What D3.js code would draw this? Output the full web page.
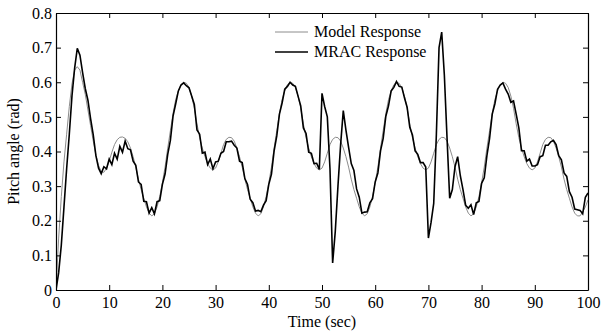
<!DOCTYPE html>
<html>
<head>
<meta charset="utf-8">
<script src="https://cdn.jsdelivr.net/npm/d3@7"></script>
<style>
  html, body { margin: 0; padding: 0; background: #fff; }
  svg { display: block; }
  text { font-family: "Liberation Serif", "Times New Roman", serif; font-size: 16px; fill: #000; }
</style>
</head>
<body>
<svg id="chart" width="601" height="331"></svg>
<script>
// ---- data (sampled every 0.5 s, 0 .. 100 s) ----
const sampleStep = 0.5;
const xTicks = [0, 10, 20, 30, 40, 50, 60, 70, 80, 90, 100];
const yTicks = [0, 0.1, 0.2, 0.3, 0.4, 0.5, 0.6, 0.7, 0.8];
const yTickLabels = ["0", "0.1", "0.2", "0.3", "0.4", "0.5", "0.6", "0.7", "0.8"];
const seriesNames = ["Model Response", "MRAC Response"];

const modelResponse = [
  0.000, 0.150, 0.270, 0.370, 0.450, 0.530, 0.595, 0.635, 0.645, 0.635,
  0.600, 0.565, 0.520, 0.475, 0.430, 0.390, 0.360, 0.342, 0.340, 0.352,
  0.372, 0.398, 0.420, 0.434, 0.441, 0.442, 0.438, 0.428, 0.410, 0.385,
  0.355, 0.320, 0.290, 0.265, 0.240, 0.222, 0.214, 0.220, 0.240, 0.270,
  0.310, 0.355, 0.410, 0.460, 0.510, 0.550, 0.575, 0.593,
  // 24 s
  0.600, 0.597, 0.585, 0.560, 0.525, 0.480, 0.440, 0.410, 0.385, 0.365,
  0.352, 0.347, 0.352, 0.370, 0.395, 0.420, 0.435, 0.441, 0.440, 0.430,
  0.410, 0.385, 0.355, 0.320, 0.290, 0.265, 0.240, 0.222, 0.214, 0.220,
  0.240, 0.270, 0.310, 0.355, 0.410, 0.460, 0.510, 0.550, 0.575, 0.593,
  // 44 s
  0.600, 0.597, 0.585, 0.560, 0.525, 0.480, 0.440, 0.410, 0.385, 0.365,
  0.352, 0.347, 0.352, 0.370, 0.395, 0.420, 0.435, 0.441, 0.440, 0.430,
  0.410, 0.385, 0.355, 0.320, 0.290, 0.265, 0.240, 0.222, 0.214, 0.220,
  0.240, 0.270, 0.310, 0.355, 0.410, 0.460, 0.510, 0.550, 0.575, 0.593,
  // 64 s
  0.600, 0.597, 0.585, 0.560, 0.525, 0.480, 0.440, 0.410, 0.385, 0.365,
  0.352, 0.347, 0.352, 0.370, 0.395, 0.420, 0.435, 0.441, 0.440, 0.430,
  0.410, 0.385, 0.355, 0.320, 0.290, 0.265, 0.240, 0.222, 0.214, 0.220,
  0.240, 0.270, 0.310, 0.355, 0.410, 0.460, 0.510, 0.550, 0.575, 0.593,
  // 84 s
  0.600, 0.597, 0.585, 0.560, 0.525, 0.480, 0.440, 0.410, 0.385, 0.365,
  0.352, 0.347, 0.352, 0.370, 0.395, 0.420, 0.435, 0.441, 0.440, 0.430,
  0.410, 0.385, 0.355, 0.320, 0.290, 0.265, 0.240, 0.222, 0.214, 0.214,
  0.225, 0.240, 0.260
];

const mracResponse = [
  0.000, 0.050, 0.130, 0.240, 0.350, 0.450, 0.560, 0.640, 0.698, 0.678,
  0.628, 0.582, 0.548, 0.495, 0.448, 0.388, 0.352, 0.336, 0.356, 0.350,
  0.378, 0.362, 0.395, 0.378, 0.415, 0.398, 0.430, 0.408, 0.405, 0.372,
  0.360, 0.312, 0.305, 0.256, 0.255, 0.222, 0.238, 0.220, 0.255, 0.258,
  0.305, 0.335, 0.392, 0.432, 0.502, 0.538, 0.575, 0.592,
  // 24 s
  0.598, 0.590, 0.584, 0.560, 0.536, 0.462, 0.450, 0.395, 0.398, 0.362,
  0.378, 0.350, 0.370, 0.372, 0.395, 0.400, 0.428, 0.428, 0.430, 0.418,
  0.410, 0.372, 0.368, 0.322, 0.305, 0.262, 0.252, 0.228, 0.230, 0.226,
  0.245, 0.258, 0.305, 0.335, 0.402, 0.445, 0.508, 0.540, 0.580, 0.588,
  // 44 s
  0.600, 0.592, 0.588, 0.560, 0.532, 0.468, 0.452, 0.398, 0.395, 0.365,
  0.366, 0.348, 0.568, 0.530, 0.500, 0.350, 0.078, 0.170, 0.300, 0.420,
  0.518, 0.462, 0.412, 0.365, 0.345, 0.292, 0.268, 0.222, 0.225, 0.226,
  0.252, 0.264, 0.312, 0.338, 0.402, 0.438, 0.502, 0.532, 0.575, 0.585,
  // 64 s
  0.602, 0.588, 0.586, 0.555, 0.528, 0.470, 0.448, 0.402, 0.392, 0.368,
  0.368, 0.355, 0.150, 0.195, 0.250, 0.450, 0.700, 0.745, 0.620, 0.440,
  0.265, 0.290, 0.356, 0.385, 0.330, 0.290, 0.245, 0.236, 0.246, 0.218,
  0.252, 0.256, 0.308, 0.324, 0.388, 0.438, 0.508, 0.538, 0.580, 0.592,
  // 84 s
  0.598, 0.580, 0.566, 0.542, 0.546, 0.508, 0.468, 0.402, 0.402, 0.372,
  0.378, 0.358, 0.358, 0.362, 0.385, 0.388, 0.418, 0.418, 0.428, 0.432,
  0.420, 0.388, 0.376, 0.338, 0.328, 0.284, 0.268, 0.234, 0.232, 0.230,
  0.220, 0.268, 0.280
];

// ---- layout ----
const svg = d3.select("#chart");
const margin = { left: 56, right: 13, top: 13, bottom: 41 };
const W = 601, H = 331;
const x0 = margin.left, x1 = W - margin.right;
const y0 = H - margin.bottom, y1 = margin.top;

const x = d3.scaleLinear().domain([0, 100]).range([x0, x1]);
const y = d3.scaleLinear().domain([0, 0.8]).range([y0, y1]);

const line = d3.line()
  .x((d, i) => x(i * sampleStep))
  .y(d => y(d));

svg.append("clipPath").attr("id", "plotclip")
  .append("rect").attr("x", x0).attr("y", y1).attr("width", x1 - x0).attr("height", y0 - y1);

const plot = svg.append("g").attr("clip-path", "url(#plotclip)");

plot.append("path").datum(modelResponse)
  .attr("d", line).attr("fill", "none")
  .attr("stroke", "#8c8c8c").attr("stroke-width", 1);

plot.append("path").datum(mracResponse)
  .attr("d", line).attr("fill", "none")
  .attr("stroke", "#000").attr("stroke-width", 1.6)
  .attr("stroke-linejoin", "miter");

// ---- axes (ticks inward on all four sides) ----
const tickLen = 5;
const fmtY = (d) => yTickLabels[yTicks.indexOf(d)];

const axB = svg.append("g").attr("transform", `translate(0,${y0})`)
  .call(d3.axisBottom(x).tickValues(xTicks).tickSizeInner(-tickLen).tickSizeOuter(0).tickPadding(7));
const axT = svg.append("g").attr("transform", `translate(0,${y1})`)
  .call(d3.axisTop(x).tickValues(xTicks).tickSizeInner(-tickLen).tickSizeOuter(0).tickFormat(""));
const axL = svg.append("g").attr("transform", `translate(${x0},0)`)
  .call(d3.axisLeft(y).tickValues(yTicks).tickSizeInner(-tickLen).tickSizeOuter(0).tickPadding(4).tickFormat(fmtY));
const axR = svg.append("g").attr("transform", `translate(${x1},0)`)
  .call(d3.axisRight(y).tickValues(yTicks).tickSizeInner(-tickLen).tickSizeOuter(0).tickFormat(""));

[axB, axT, axL, axR].forEach(g => {
  g.attr("font-family", null).attr("font-size", null);
  g.select(".domain").attr("stroke", "#000").attr("stroke-width", 1.2);
  g.selectAll(".tick line").attr("stroke", "#000").attr("stroke-width", 1);
  g.selectAll("text")
    .style("font-family", "'Liberation Serif', 'Times New Roman', serif")
    .style("font-size", "16px").attr("fill", "#000");
});

// ---- axis titles ----
svg.append("text").attr("x", (x0 + x1) / 2).attr("y", 327)
  .attr("text-anchor", "middle").text("Time (sec)");
svg.append("text")
  .attr("transform", `translate(19,${(y0 + y1) / 2}) rotate(-90)`)
  .attr("text-anchor", "middle").text("Pitch angle (rad)");

// ---- legend ----
const legend = svg.append("g");
const legColors = ["#8c8c8c", "#000"];
const legWidths = [1, 1.3];
seriesNames.forEach((name, i) => {
  const ly = 32 + i * 20;
  legend.append("line").attr("x1", 275).attr("x2", 308).attr("y1", ly).attr("y2", ly)
    .attr("stroke", legColors[i]).attr("stroke-width", legWidths[i]);
  legend.append("text").attr("x", 314).attr("y", ly + 5).text(name);
});
</script>
</body>
</html>
